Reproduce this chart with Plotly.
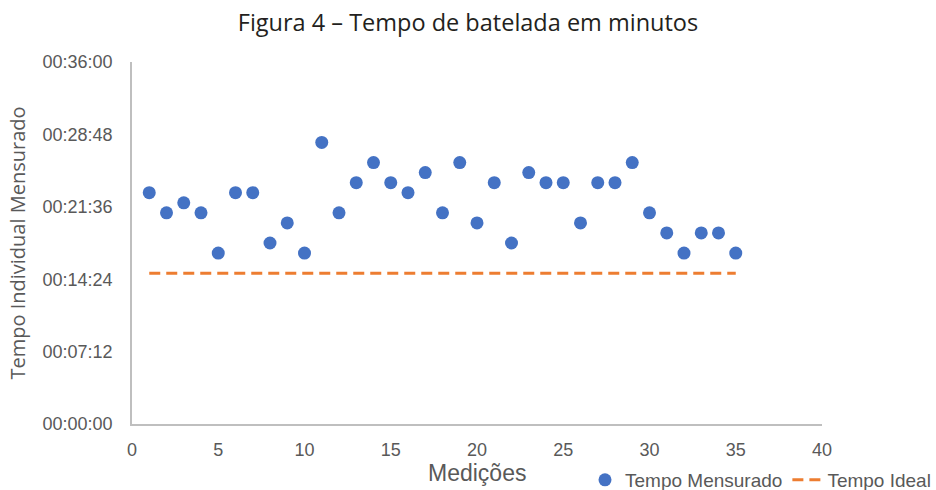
import plotly.graph_objects as go

medicoes = list(range(1, 36))
tempo_mensurado_min = [23, 21, 22, 21, 17, 23, 23, 18, 20, 17, 28, 21, 24, 26, 24, 23, 25, 21, 26, 20,
                       24, 18, 25, 24, 24, 20, 24, 24, 26, 21, 19, 17, 19, 19, 17]
tempo_ideal_min = [15] * 35
ytick_vals_min = [0, 7.2, 14.4, 21.6, 28.8, 36]
ytick_text = ["00:00:00", "00:07:12", "00:14:24", "00:21:36", "00:28:48", "00:36:00"]
xtick_vals = [0, 5, 10, 15, 20, 25, 30, 35, 40]
x_title = "Medições"

gray = "#595959"
narrow = "Liberation Sans Narrow, Liberation Sans, sans-serif"
tickfont = dict(family=narrow, size=18, color=gray)

fig = go.Figure()
fig.add_trace(go.Scatter(x=medicoes, y=tempo_mensurado_min, mode="markers", name="Tempo Mensurado",
                         marker=dict(color="#4472C4", size=13)))
fig.add_trace(go.Scatter(x=medicoes, y=tempo_ideal_min, mode="lines", name="Tempo Ideal",
                         line=dict(color="#ED7D31", width=3, dash="11px,6px")))

fig.update_layout(
    width=936, height=490,
    paper_bgcolor="white", plot_bgcolor="white",
    margin=dict(l=132, r=114, t=62, b=66, autoexpand=False),
    title=dict(text="Figura 4 – Tempo de batelada em minutos", x=0.5, xanchor="center",
               y=1 - 23 / 490, yanchor="middle",
               font=dict(family="Open Sans, sans-serif", size=23.5, color="#231f20")),
    xaxis=dict(range=[0, 40], tickvals=xtick_vals, showgrid=False, zeroline=False,
               showline=True, linecolor="#BFBFBF", linewidth=1.5, ticks="",
               tickfont=tickfont, ticklabelstandoff=9, automargin=False),
    yaxis=dict(range=[0, 36], tickvals=ytick_vals_min, ticktext=ytick_text, showgrid=False, zeroline=False,
               showline=True, linecolor="#BFBFBF", linewidth=1.5, ticks="",
               tickfont=tickfont, ticklabelstandoff=14, automargin=True,
               title=dict(text="Tempo Individual Mensurado", standoff=12,
                          font=dict(family="Open Sans, sans-serif", size=20, color=gray))),
    legend=dict(orientation="h", xref="container", yref="container",
                x=1.0, xanchor="right", y=1 - 480 / 490, yanchor="middle",
                font=dict(family=narrow, size=19, color=gray),
                bgcolor="rgba(0,0,0,0)", itemwidth=30),
    annotations=[dict(text=x_title, xref="paper", x=0.5, xanchor="center",
                      yref="paper", y=(424 - 473) / 362, yanchor="middle", showarrow=False,
                      font=dict(family=narrow, size=23, color=gray))],
)

fig.write_html("out.html", config={"displayModeBar": False},
               post_script="document.body.style.margin='0';document.body.style.overflow='hidden';")
